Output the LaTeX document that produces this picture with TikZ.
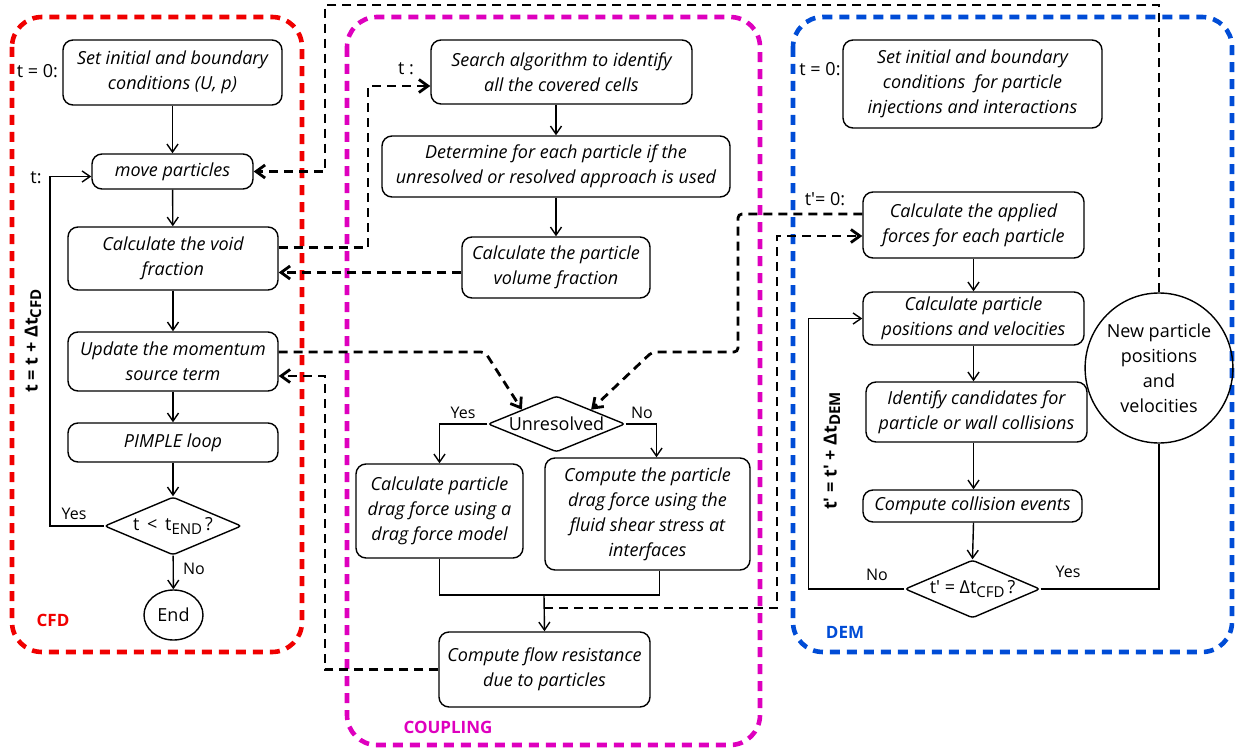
\documentclass[tikz,border=0pt]{standalone}
\usepackage{fontspec}
\setmainfont{Open Sans}
\usetikzlibrary{shapes.geometric,arrows.meta,calc}
\definecolor{cfdred}{RGB}{240,0,0}
\definecolor{cpmag}{RGB}{222,0,190}
\definecolor{demblue}{RGB}{0,76,214}
\newcommand{\subx}[1]{\raisebox{-0.35ex}{\fontsize{7.5}{8}\selectfont #1}}
\newcommand{\apo}{\textquotesingle}
\tikzset{
  box/.style={draw, rounded corners=5pt, align=center, font=\fontsize{9}{12.5}\selectfont\itshape, inner sep=0pt, line width=0.7pt},
  dec/.style={draw, diamond, aspect=2.4, inner sep=0pt, line width=0.7pt, rounded corners=1.5pt, font=\fontsize{9}{11}\selectfont},
  oval/.style={draw, ellipse, inner sep=0pt, line width=0.7pt, align=center, font=\fontsize{9}{12.5}\selectfont},
  lbl/.style={font=\fontsize{9}{11}\selectfont, inner sep=0pt},
  sml/.style={font=\fontsize{8}{10}\selectfont, inner sep=0pt},
  rot/.style={font=\fontsize{9}{11}\selectfont\bfseries, inner sep=0pt, rotate=90},
  title/.style={font=\fontsize{8.5}{10}\selectfont\bfseries, inner sep=0pt},
  arr/.style={-{Straight Barb[length=4pt,width=5.5pt]}, line width=0.7pt},
  ln/.style={line width=0.7pt},
  dsh/.style={dash pattern=on 4.5pt off 3pt, line width=1.4pt},
  darr/.style={dsh, -{Straight Barb[length=4.5pt,width=6.5pt]}},
  cont/.style={draw=#1, line width=2.3pt, dash pattern=on 5pt off 3.5pt, rounded corners=15pt}
}
\begin{document}
\begin{tikzpicture}[x=0.5pt,y=-0.5pt]
\useasboundingbox (0,0) rectangle (1247,749);
% containers
\draw[cont=cfdred] (12,17) rectangle (302,652);
\draw[cont=cpmag] (347,17) rectangle (760,745);
\draw[cont=demblue] (793,17) rectangle (1232,652);
\node[title, text=cfdred] (tcfd) at (53,620) {CFD};
\node[title, text=cpmag] (tcp) at (448,727) {COUPLING};
\node[title, text=demblue] (tdem) at (845,632) {DEM};

% CFD
\node[box, minimum width=109.5pt, minimum height=32.5pt] (cinit) at (172.5,72.5) {Set initial and boundary\\conditions (U, p)};
\node[box, minimum width=80.5pt, minimum height=17.5pt] (cmove) at (172.5,171.5) {move particles};
\node[box, minimum width=105pt, minimum height=31.5pt] (cvoid) at (173,258.5) {Calculate the void\\fraction};
\node[box, minimum width=105pt, minimum height=29.5pt] (cmom) at (173,361.5) {Update the momentum\\source term};
\node[box, minimum width=105pt, minimum height=19.5pt] (cpimple) at (173,442.5) {PIMPLE loop};
\node[dec, minimum width=68.5pt, minimum height=29pt] (cdec) at (173,526) {t\ \,<\ \,t\subx{END}\,?};
\node[oval, minimum width=29.5pt, minimum height=25pt] (cend) at (173.5,615) {End};
\node[lbl] (l1) at (37.5,71) {t = 0:};
\node[lbl] (l2) at (36,178) {t:};
\node[rot] (l3) at (33,341) {t = t + Δt\subx{CFD}};
\draw[arr] (cinit) -- (cmove);
\draw[arr] (cmove) -- (cvoid);
\draw[arr] (cvoid) -- (cmom);
\draw[arr] (cmom) -- (cpimple);
\draw[arr] (cpimple) -- (cdec);
\draw[arr] (cdec) -- (cend);
\draw[arr] (cdec.west) -- ++(-54,0) |- ($(cmove.west)+(0,5)$);
\node[sml] (y1) at (74,514) {Yes};
\node[sml] (n1) at (194,569) {No};

% COUPLING
\node[box, minimum width=130.5pt, minimum height=32pt] (search) at (561.5,72) {Search algorithm to identify\\all the covered cells};
\node[box, minimum width=174pt, minimum height=30.5pt] (determ) at (556,166.5) {Determine for each particle if the\\unresolved or resolved approach is used};
\node[box, minimum width=94pt, minimum height=30.5pt] (volfrac) at (556,267.5) {Calculate the particle\\volume fraction};
\node[dec, minimum width=68.5pt, minimum height=28pt] (unres) at (556.5,424) {Unresolved};
\node[box, minimum width=83.5pt, minimum height=47pt] (dragm) at (439.5,511) {Calculate particle\\drag force using a\\drag force model};
\node[box, minimum width=102.5pt, minimum height=56pt] (shear) at (647.5,514) {Compute the particle\\drag force using the\\fluid shear stress at\\interfaces};
\node[box, minimum width=105.5pt, minimum height=37.5pt] (flow) at (544.5,669.5) {Compute flow resistance\\due to particles};
\node[lbl] (l4) at (406,69) {t :};
\draw[arr] (determ.north |- search.south) -- (determ.north);
\draw[arr] (determ) -- (volfrac);
\draw[arr] (unres.west) -| (dragm.north);
\draw[arr] (unres.east) -| ($(shear.north)+(9,0)$);
\coordinate (mg) at (544,595);
\coordinate (fx) at (544,608);
\draw[ln] (dragm.south) |- (mg) -| ($(shear.south)+(12,0)$);
\draw[arr] (mg) -- (flow.north);
\node[sml] (y2) at (463,413) {Yes};
\node[sml] (n2) at (642,413) {No};

% DEM
\node[box, minimum width=129.5pt, minimum height=44pt] (dinit) at (972.5,84) {Set initial and boundary\\conditions \ for particle\\injections and interactions};
\node[box, minimum width=110.5pt, minimum height=33pt] (applied) at (973.5,225) {Calculate the applied\\forces for each particle};
\node[box, minimum width=110.5pt, minimum height=26.5pt] (pos) at (973.5,318.5) {Calculate particle\\positions and velocities};
\node[box, minimum width=110.5pt, minimum height=30pt] (ident) at (976.5,412) {Identify candidates for\\particle or wall collisions};
\node[box, minimum width=109.5pt, minimum height=16pt] (coll) at (972.5,506) {Compute collision events};
\node[dec, aspect=2.33, minimum width=67.5pt, minimum height=29pt] (ddec) at (972.5,589) {t\apo{} = Δt\subx{CFD}\,?};
\node[oval, minimum width=64pt, minimum height=75pt] (newp) at (1159,368) {New particle\\positions\\and\\velocities};
\node[lbl] (l5) at (820,69) {t = 0:};
\node[lbl] (l6) at (825,199) {t\apo= 0:};
\node[rot] (l7) at (832,451) {t\apo{} = t\apo{} + Δt\subx{DEM}};
\draw[arr] (applied) -- (pos);
\draw[arr] (pos.south) -- (pos.south |- ident.north);
\draw[arr] (pos.south |- ident.south) -- (pos.south |- coll.north);
\draw[arr] (pos.south |- coll.south) -- (ddec.north);
\draw[arr] (ddec.west) -- ++(-96,0) |- (pos.west);
\draw[ln] (ddec.east) -| (newp.south);
\node[sml] (n3) at (877,575) {No};
\node[sml] (y3) at (1068,572) {Yes};

% dashed couplings
\draw[darr] (newp.north) |- (325,5) |- (cmove.east);
\draw[darr] ($(cvoid.east)+(0,-11)$) -| (368,86) -- ($(search.west)+(0,14)$);
\draw[darr] ($(volfrac.west)+(0,5)$) -- ($(cvoid.east)+(0,14)$);
\draw[darr, rounded corners=2pt] ($(cmom.east)+(0,-9.5)$) -- (485,352) -- (unres.north west);
\draw[darr, rounded corners=2pt] ($(applied.west)+(0,-11)$) -| (738,352) -- (652,352) -- (unres.north east);
\draw[darr] (fx) -| (777,236) -- ($(applied.west)+(0,11)$);
\draw[darr] (flow.west) -- (325,669.5) |- ($(cmom.east)+(0,14.5)$);
\end{tikzpicture}
\end{document}
